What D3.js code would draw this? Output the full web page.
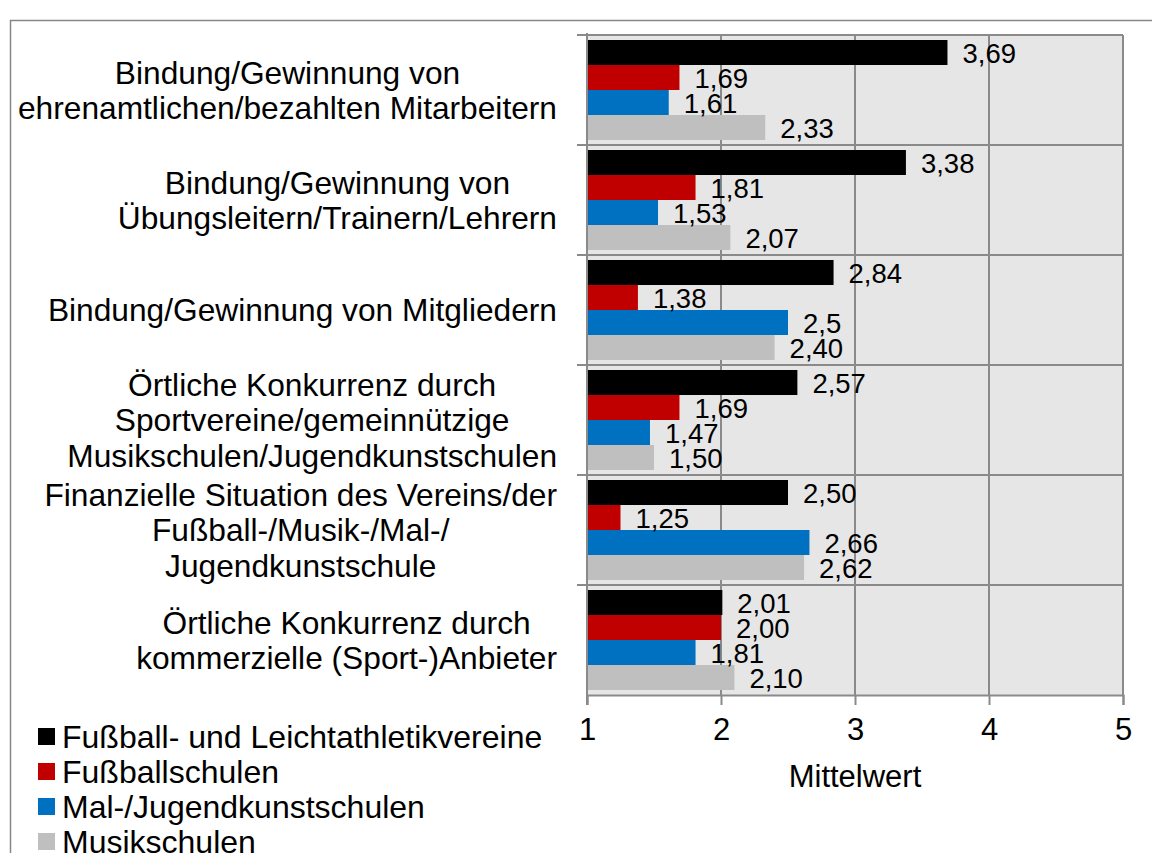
<!DOCTYPE html>
<html>
<head>
<meta charset="utf-8">
<script src="https://cdn.jsdelivr.net/npm/d3@7"></script>
<style>
  body { margin: 0; background: #fff; }
  text { font-family: "Liberation Sans", Arial, sans-serif; fill: #000; }
</style>
</head>
<body>
<div id="chart"></div>
<script>
// categories (one label line per entry)
var categories = [
  ["Bindung/Gewinnung von", "ehrenamtlichen/bezahlten Mitarbeitern"],
  ["Bindung/Gewinnung von", "Übungsleitern/Trainern/Lehrern"],
  ["Bindung/Gewinnung von Mitgliedern"],
  ["Örtliche Konkurrenz durch", "Sportvereine/gemeinnützige", "Musikschulen/Jugendkunstschulen"],
  ["Finanzielle Situation des Vereins/der", "Fußball-/Musik-/Mal-/", "Jugendkunstschule"],
  ["Örtliche Konkurrenz durch", "kommerzielle (Sport-)Anbieter"]
];
var seriesNames = ["Fußball- und Leichtathletikvereine", "Fußballschulen", "Mal-/Jugendkunstschulen", "Musikschulen"];
var seriesColors = ["#000000", "#c00000", "#0070c0", "#bfbfbf"];

// values per series, in category order
var vereine     = [3.69, 3.38, 2.84, 2.57, 2.50, 2.01];
var fussball    = [1.69, 1.81, 1.38, 1.69, 1.25, 2.00];
var malschulen  = [1.61, 1.53, 2.50, 1.47, 2.66, 1.81];
var musik       = [2.33, 2.07, 2.40, 1.50, 2.62, 2.10];
// labels as printed on the chart
var vereineLbl    = ["3,69", "3,38", "2,84", "2,57", "2,50", "2,01"];
var fussballLbl   = ["1,69", "1,81", "1,38", "1,69", "1,25", "2,00"];
var malschulenLbl = ["1,61", "1,53", "2,5", "1,47", "2,66", "1,81"];
var musikLbl      = ["2,33", "2,07", "2,40", "1,50", "2,62", "2,10"];
var xTicks = [1, 2, 3, 4, 5];

var seriesVals = [vereine, fussball, malschulen, musik];
var seriesLbls = [vereineLbl, fussballLbl, malschulenLbl, musikLbl];

var W = 1152, H = 853;
var margin = {top: 35, left: 587, right: 29, bottom: 158};
var width = W - margin.left - margin.right,
    height = H - margin.top - margin.bottom;

var svg = d3.select("#chart").append("svg")
  .attr("width", W).attr("height", H);

// outer frame
svg.append("path")
  .attr("d", "M10.5," + H + "V20.5H" + W)
  .attr("fill", "none").attr("stroke", "#878787").attr("stroke-width", 1.5);

var g = svg.append("g")
  .attr("transform", "translate(" + margin.left + "," + margin.top + ")");

var x = d3.scaleLinear().domain([1, 5]).range([0, width]);
var y = d3.scaleBand().domain(d3.range(categories.length)).range([0, height]).padding(0);
var yInner = d3.scaleBand().domain(d3.range(4))
  .range([5, y.bandwidth() - 5]).padding(0);

// plot background
g.append("rect")
  .attr("width", width).attr("height", height)
  .attr("fill", "#e6e6e6");

// vertical gridlines
g.selectAll(".vgrid").data(xTicks.slice(1)).enter().append("line")
  .attr("x1", function(d) { return x(d); }).attr("x2", function(d) { return x(d); })
  .attr("y1", 0).attr("y2", height)
  .attr("stroke", "#8a8a8a").attr("stroke-width", 2);

// horizontal separators between categories (extend as ticks to the left)
g.selectAll(".hgrid").data(d3.range(categories.length)).enter().append("line")
  .attr("x1", -10).attr("x2", width)
  .attr("y1", function(d) { return y(d); }).attr("y2", function(d) { return y(d); })
  .attr("stroke", "#8a8a8a").attr("stroke-width", 2);

// bars
var catG = g.selectAll(".cat").data(d3.range(categories.length)).enter().append("g")
  .attr("transform", function(i) { return "translate(0," + y(i) + ")"; });

catG.each(function(ci) {
  var cg = d3.select(this);
  seriesVals.forEach(function(vals, si) {
    cg.append("rect")
      .attr("x", x(1))
      .attr("y", yInner(si))
      .attr("width", x(vals[ci]) - x(1))
      .attr("height", yInner.bandwidth())
      .attr("fill", seriesColors[si]);
  });
  seriesVals.forEach(function(vals, si) {
    cg.append("text")
      .attr("x", x(vals[ci]) + 15)
      .attr("y", yInner(si) + yInner.bandwidth() / 2 + 1)
      .attr("dy", "0.36em")
      .style("font-size", "27.5px")
      .text(seriesLbls[si][ci]);
  });
});

// left axis line
g.append("line").attr("x1", 0).attr("x2", 0).attr("y1", -2).attr("y2", height + 10)
  .attr("stroke", "#8a8a8a").attr("stroke-width", 2);

// bottom axis
var xAxis = g.append("g")
  .attr("transform", "translate(0," + height + ")")
  .call(d3.axisBottom(x).tickValues(xTicks).tickSize(10).tickPadding(13).tickFormat(d3.format("d")));
xAxis.select(".domain").attr("stroke", "#8a8a8a").attr("stroke-width", 2);
xAxis.selectAll(".tick line").attr("stroke", "#8a8a8a").attr("stroke-width", 2);
xAxis.selectAll(".tick text").style("font-size", "31px").attr("fill", "#000")
  .style("font-family", "'Liberation Sans', Arial, sans-serif");

g.append("text")
  .attr("x", width / 2).attr("y", height + 81)
  .attr("dy", "0.36em")
  .attr("text-anchor", "middle")
  .style("font-size", "31px")
  .text("Mittelwert");

// category labels: lines centred within a block right-aligned at x=557
var lineH = 35.5;
categories.forEach(function(lines, ci) {
  var tg = svg.append("g");
  var texts = lines.map(function(l) {
    return tg.append("text").style("font-size", "31.7px").attr("text-anchor", "middle").text(l);
  });
  var maxW = d3.max(texts, function(t) { return t.node().getComputedTextLength(); });
  var cx = 557 - maxW / 2;
  var cy = margin.top + y(ci) + y.bandwidth() / 2;
  var y0 = cy - (lines.length - 1) * lineH / 2;
  texts.forEach(function(t, li) {
    t.attr("x", cx).attr("y", y0 + li * lineH).attr("dy", "0.36em");
  });
});

// legend
var legend = svg.append("g").attr("transform", "translate(38,736)");
seriesNames.forEach(function(name, i) {
  var lg = legend.append("g").attr("transform", "translate(0," + i * 35 + ")");
  lg.append("rect").attr("x", 0).attr("y", -8).attr("width", 17).attr("height", 17)
    .attr("fill", seriesColors[i]);
  lg.append("text").attr("x", 24).attr("dy", "0.36em")
    .style("font-size", "32px").text(name);
});
</script>
</body>
</html>
